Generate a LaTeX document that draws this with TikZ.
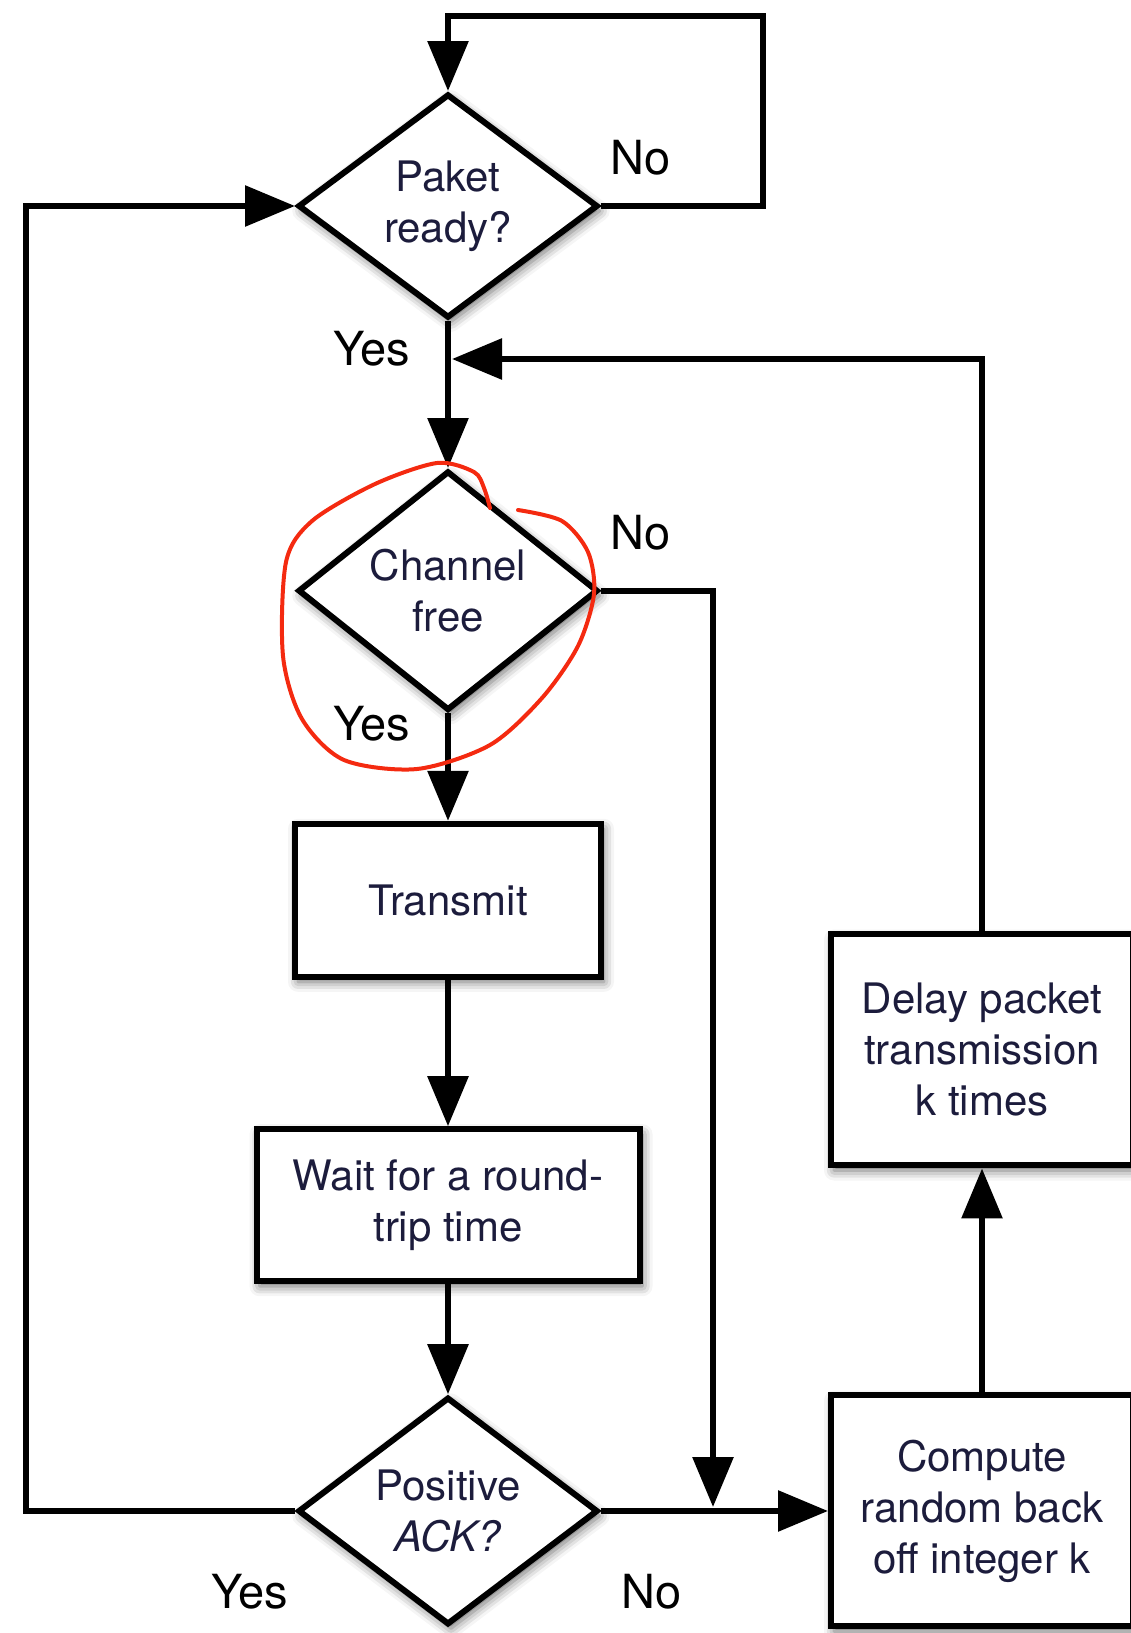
\documentclass[tikz,border=0pt]{standalone}
\usepackage{fontspec}
\setmainfont{TeX Gyre Heros}
\usetikzlibrary{arrows.meta, positioning, shapes.geometric, shadows.blur}
\definecolor{txtnavy}{HTML}{1C1C3C}
\definecolor{markred}{HTML}{F42A10}
\newcommand{\boxfont}{\fontsize{21}{25.5}\selectfont}
\newcommand{\lblfont}{\fontsize{23.5}{28}\selectfont}

\begin{document}
\begin{tikzpicture}[x=0.5pt, y=-0.5pt,
    decision/.style={diamond, draw, line width=3pt, fill=white, inner sep=0pt,
                 minimum width=150pt, minimum height=112pt, align=center,
                 font=\boxfont, text=txtnavy,
                 blur shadow={shadow xshift=1.5pt, shadow yshift=-2.5pt, shadow blur radius=5pt, shadow opacity=60}},
    procbox/.style={rectangle, draw, line width=3pt, fill=white, align=center,
                 font=\boxfont, text=txtnavy,
                 blur shadow={shadow xshift=1.5pt, shadow yshift=-2.5pt, shadow blur radius=5pt, shadow opacity=60}},
    arr/.style={-{Triangle[length=25pt, width=20pt]}, line width=3pt},
    lbl/.style={font=\lblfont},
    scribble/.style={draw=markred, line width=2pt, line cap=round}
  ]
    \useasboundingbox (0,0) rectangle (1130,1633);

    \node[decision] (paket) at (448,206) {Paket\\ ready?};
    \node[decision, below=73.5pt of paket] (chan) {Channel\\ free};
    \node[procbox, below=53.7pt of chan, minimum width=153pt, minimum height=76.5pt] (tx) {Transmit};
    \node[procbox, below=73.2pt of tx, minimum width=191.5pt, minimum height=76pt] (wait) {Wait for a round-\\ trip time};
    \node[decision, below=55pt of wait] (ack) {Positive\\ \textit{ACK?}};
    \node[procbox, right=113.5pt of ack, minimum width=151pt, minimum height=115.5pt] (comp) {Compute\\ random back\\ off integer k};
    \node[procbox, above=112pt of comp, minimum width=151pt, minimum height=115.5pt] (delay) {Delay packet\\ transmission\\ k times};

    \coordinate (loopR) at (763,16);
    \coordinate (loopL) at (26,206);
    \coordinate (backin) at (452,359);
    \coordinate (nojoin) at (713,1507);

    \draw[arr] (paket.east) -| (loopR) -| (paket.north);
    \draw[arr] (paket.south) -- (chan.north);
    \draw[arr] (chan.south) -- (tx.north);
    \draw[arr] (tx.south) -- (wait.north);
    \draw[arr] (wait.south) -- (ack.north);
    \draw[arr] (ack.west) -| (loopL) -- (paket.west);
    \draw[arr] (ack.east) -- (comp.west);
    \draw[arr] (chan.east) -| (nojoin);
    \draw[arr] (comp.north) -- (delay.south);
    \draw[arr] (delay.north) |- (backin);

    \node[lbl] (no1) at (641,158) {No};
    \node[lbl] (yes1) at (372,349) {Yes};
    \node[lbl] (no2) at (641,533) {No};
    \node[lbl] (yes2) at (372,724) {Yes};
    \node[lbl] (yes3) at (250,1592) {Yes};
    \node[lbl] (no3) at (652,1592) {No};

    % hand-drawn mark
    \draw[scribble] plot[smooth] coordinates {(518,510) (562,521) (588,552) (594,594) (578,646) (542,698) (490,745) (417,769) (344,760) (302,719) (283,656) (286,562) (312,521) (375,484) (437,463) (474,472) (484,488) (490,508)};
\end{tikzpicture}
\end{document}
